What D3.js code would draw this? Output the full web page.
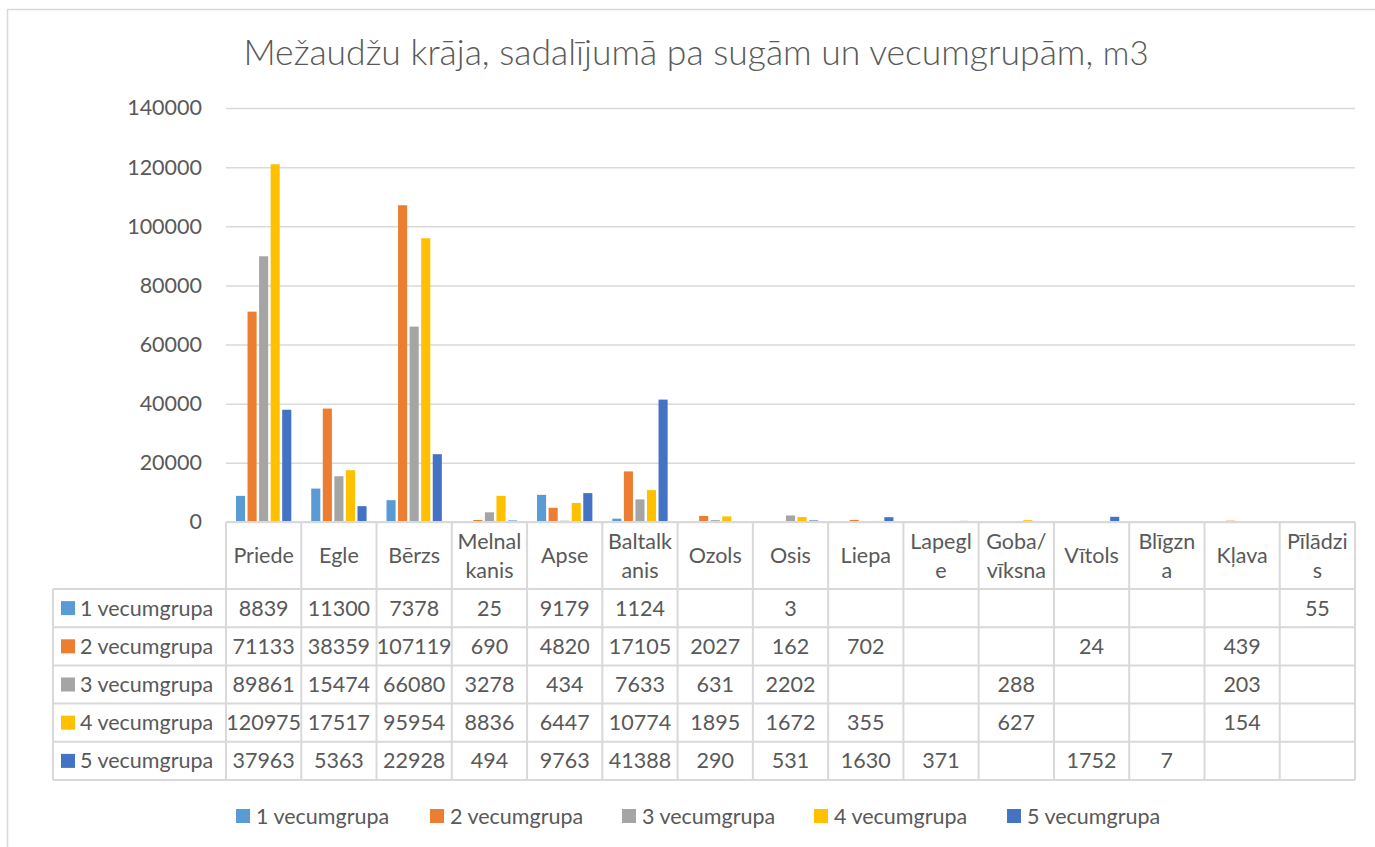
<!DOCTYPE html>
<html>
<head>
<meta charset="utf-8">
<script src="https://cdn.jsdelivr.net/npm/d3@7"></script>
<style>
  body { margin: 0; background: #fff; }
  svg { display: block; }
  text { font-family: Lato, "Open Sans", sans-serif; fill: #595959; }
</style>
</head>
<body>
<div id="chart"></div>
<script>
// chart data
const categories = ["Priede", "Egle", "Bērzs", "Melnalkanis", "Apse", "Baltalkanis", "Ozols", "Osis",
                    "Liepa", "Lapegle", "Goba/vīksna", "Vītols", "Blīgzna", "Kļava", "Pīlādzis"];
// how the header cells wrap (as in the table)
const catLabels = [["Priede"], ["Egle"], ["Bērzs"], ["Melnal", "kanis"], ["Apse"], ["Baltalk", "anis"],
                   ["Ozols"], ["Osis"], ["Liepa"], ["Lapegl", "e"], ["Goba/", "vīksna"], ["Vītols"],
                   ["Blīgzn", "a"], ["Kļava"], ["Pīlādzi", "s"]];
const seriesNames = ["1 vecumgrupa", "2 vecumgrupa", "3 vecumgrupa", "4 vecumgrupa", "5 vecumgrupa"];

const group1 = [8839, 11300, 7378, 25, 9179, 1124, null, 3, null, null, null, null, null, null, 55];
const group2 = [71133, 38359, 107119, 690, 4820, 17105, 2027, 162, 702, null, null, 24, null, 439, null];
const group3 = [89861, 15474, 66080, 3278, 434, 7633, 631, 2202, null, null, 288, null, null, 203, null];
const group4 = [120975, 17517, 95954, 8836, 6447, 10774, 1895, 1672, 355, null, 627, null, null, 154, null];
const group5 = [37963, 5363, 22928, 494, 9763, 41388, 290, 531, 1630, 371, null, 1752, 7, null, null];

const yTicks = [0, 20000, 40000, 60000, 80000, 100000, 120000, 140000];
const colors = ["#5B9BD5", "#ED7D31", "#A5A5A5", "#FFC000", "#4472C4"];

const allSeries = [group1, group2, group3, group4, group5];

const width = 1375, height = 847;
const plotLeft = 226, plotRight = 1355, plotTop = 108, plotBottom = 522;
const labelColLeft = 53;
const headerBottom = 589, rowH = 38.2;
const gridColor = "#D9D9D9";
const fs = "21.5px";

const svg = d3.select("#chart").append("svg")
    .attr("width", width)
    .attr("height", height);

// chart border
svg.append("rect")
    .attr("x", 7.5).attr("y", 9.5)
    .attr("width", 1400).attr("height", 900)
    .attr("fill", "none")
    .attr("stroke", gridColor)
    .attr("stroke-width", 1.5);

// title
const title = svg.append("text")
    .attr("x", 696).attr("y", 65)
    .attr("text-anchor", "middle")
    .style("font-size", "35.5px")
    .style("font-weight", 300);
title.append("tspan").text("Mežaudžu krāja, sadalījumā pa sugām un vecumgrupām, ");
title.append("tspan")
    .style("font-size", "33px")
    .text("m3");

// scales
const x0 = d3.scaleBand()
    .domain(categories)
    .range([plotLeft, plotRight])
    .padding(0);

const x1 = d3.scaleBand()
    .domain(seriesNames)
    .range([0, x0.bandwidth()])
    .paddingInner(0.213)
    .paddingOuter(0.862);

const y = d3.scaleLinear()
    .domain([0, 140000])
    .range([plotBottom, plotTop]);

// gridlines + y labels via axis
const yAxis = d3.axisLeft(y)
    .tickValues(yTicks)
    .tickSize(-(plotRight - plotLeft))
    .tickPadding(24)
    .tickFormat(d3.format("d"));

const yg = svg.append("g")
    .attr("transform", "translate(" + plotLeft + ",0)")
    .call(yAxis);
yg.select(".domain").remove();
yg.selectAll(".tick line")
    .attr("stroke", gridColor)
    .attr("stroke-width", 1.5);
yg.selectAll(".tick text")
    .style("font-size", fs)
    .attr("fill", "#595959");

// bars
const seriesData = seriesNames.map((s, i) => ({ name: s, values: allSeries[i], color: colors[i] }));

const sg = svg.selectAll(".series")
    .data(seriesData)
    .enter().append("g")
    .attr("class", "series")
    .attr("fill", (d) => d.color);

sg.selectAll("rect")
    .data((d) => d.values.map((v, j) => ({ cat: categories[j], v: v, name: d.name })).filter((e) => e.v != null))
    .enter().append("rect")
    .attr("x", (d) => x0(d.cat) + x1(d.name))
    .attr("width", x1.bandwidth())
    .attr("y", (d) => y(d.v))
    .attr("height", (d) => Math.max(plotBottom - y(d.v), 0.8));

// data table
const table = svg.append("g").attr("stroke", gridColor).attr("stroke-width", 2).attr("fill", "none");

// horizontal lines
table.append("line")
    .attr("x1", plotLeft).attr("x2", plotRight)
    .attr("y1", plotBottom).attr("y2", plotBottom);
for (let r = 0; r <= seriesNames.length; r++) {
    const yy = headerBottom + r * rowH;
    table.append("line")
        .attr("x1", labelColLeft).attr("x2", plotRight)
        .attr("y1", yy).attr("y2", yy);
}
const tableBottom = headerBottom + seriesNames.length * rowH;

// vertical lines
table.append("line")
    .attr("x1", labelColLeft).attr("x2", labelColLeft)
    .attr("y1", headerBottom).attr("y2", tableBottom);
categories.forEach((c) => {
    table.append("line")
        .attr("x1", x0(c)).attr("x2", x0(c))
        .attr("y1", plotBottom).attr("y2", tableBottom);
});
table.append("line")
    .attr("x1", plotRight).attr("x2", plotRight)
    .attr("y1", plotBottom).attr("y2", tableBottom);

// header labels
const headerMid = (plotBottom + headerBottom) / 2;
categories.forEach((c, i) => {
    const lines = catLabels[i];
    const t = svg.append("text")
        .attr("x", x0(c) + x0.bandwidth() / 2)
        .attr("text-anchor", "middle")
        .style("font-size", fs);
    lines.forEach((ln, k) => {
        t.append("tspan")
            .attr("x", x0(c) + x0.bandwidth() / 2)
            .attr("y", headerMid + (k - (lines.length - 1) / 2) * 29)
            .attr("dy", "0.35em")
            .text(ln);
    });
});

// row labels with legend keys + values
seriesData.forEach((s, r) => {
    const rowMid = headerBottom + r * rowH + rowH / 2;
    svg.append("rect")
        .attr("x", 61).attr("y", rowMid - 7)
        .attr("width", 14).attr("height", 14)
        .attr("fill", s.color);
    svg.append("text")
        .attr("x", 80).attr("y", rowMid)
        .attr("dy", "0.35em")
        .style("font-size", fs)
        .text(s.name);
    s.values.forEach((v, j) => {
        if (v == null) return;
        svg.append("text")
            .attr("x", x0(categories[j]) + x0.bandwidth() / 2)
            .attr("y", rowMid)
            .attr("dy", "0.35em")
            .attr("text-anchor", "middle")
            .style("font-size", fs)
            .text(v);
    });
});

// bottom legend
const legend = svg.append("g");
const legendX = [236, 430, 622, 814, 1007];
seriesData.forEach((s, i) => {
    const lg = legend.append("g").attr("transform", "translate(" + legendX[i] + ",816)");
    lg.append("rect")
        .attr("x", 0).attr("y", -7)
        .attr("width", 14).attr("height", 14)
        .attr("fill", s.color);
    lg.append("text")
        .attr("x", 20).attr("y", 0)
        .attr("dy", "0.35em")
        .style("font-size", fs)
        .text(s.name);
});
</script>
</body>
</html>
